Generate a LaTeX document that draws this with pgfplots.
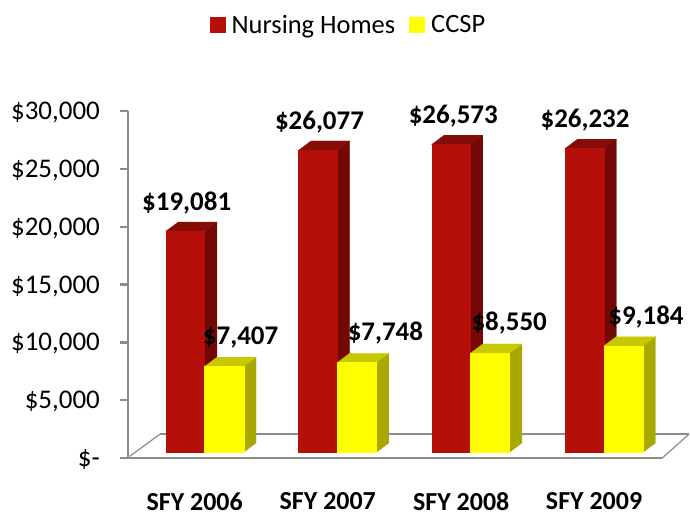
\documentclass[border=0pt]{standalone}
\usepackage{fontspec}
\setmainfont{Carlito}
\usepackage{pgfplots}
\pgfplotsset{compat=1.18}
\definecolor{redF}{HTML}{B50F0A}
\definecolor{redT}{HTML}{860C08}
\definecolor{redS}{HTML}{740806}
\definecolor{yelF}{HTML}{FFFF00}
\definecolor{yelT}{HTML}{C8C800}
\definecolor{yelS}{HTML}{A8A800}
\definecolor{axisgray}{HTML}{8C8C8C}
% #1 left edge (tenths of a pixel), #2 width, #3 value, #4 face, #5 top, #6 side
\newcommand{\threedbar}[6]{%
  \edef\xa{\the\numexpr#1\relax}\edef\xb{\the\numexpr#1+#2\relax}%
  \edef\xc{\the\numexpr#1+125\relax}\edef\xd{\the\numexpr#1+#2+125\relax}%
  \edef\ya{517}\edef\yb{\the\numexpr517+802\relax}%
  \edef\yc{\the\numexpr#3+517\relax}\edef\yd{\the\numexpr#3+517+802\relax}%
  \edef\tmp{\noexpand\addplot[fill=#6,draw=#6,line width=0.2pt,forget plot] coordinates {(\xb,\ya)(\xd,\yb)(\xd,\yd)(\xb,\yc)} --cycle;}\tmp
  \edef\tmp{\noexpand\addplot[fill=#5,draw=#5,line width=0.2pt,forget plot] coordinates {(\xa,\yc)(\xb,\yc)(\xd,\yd)(\xc,\yd)} --cycle;}\tmp
  \edef\tmp{\noexpand\addplot[fill=#4,draw=#4,line width=0.2pt,forget plot] coordinates {(\xa,\ya)(\xb,\ya)(\xb,\yc)(\xa,\yc)} --cycle;}\tmp
}
\newcommand{\lab}[3]{\edef\ly{\the\numexpr(459-#2)*10000/116\relax}%
  \edef\tmp{\noexpand\node[font=\noexpand\fontsize{27}{27}\noexpand\selectfont\noexpand\bfseries,inner sep=0pt] at (axis cs:#1,\ly) {\noexpand\$#3};}\tmp}
\begin{document}
\begin{tikzpicture}
\begin{axis}[
  scale only axis, width=535pt, height=348pt,
  xmin=1280, xmax=6630, ymin=0, ymax=30000,
  axis lines=left, clip=false, scaled y ticks=false,
  axis line style={-, line width=2.2pt, color=axisgray},
  xtick={1950,3283,4620,5950},
  xticklabels={SFY 2006,SFY 2007,SFY 2008,SFY 2009},
  ytick={0,5000,10000,15000,20000,25000,30000},
  yticklabels={{\$-},{\$5,000},{\$10,000},{\$15,000},{\$20,000},{\$25,000},{\$30,000}},
  x tick label style={font=\fontsize{26}{26}\selectfont\bfseries, inner sep=0pt, yshift=-26pt},
  y tick label style={font=\fontsize{27}{27}\selectfont, xshift=-16.5pt, yshift=-1.5pt},
  major tick length=8pt, tick align=outside,
  y tick style={line width=2.2pt, color=axisgray},
  x tick style={draw=none},
  legend style={draw=none, at={(axis cs:3490,37414)}, anchor=center, legend columns=2,
    font=\fontsize{26.5}{26.5}\selectfont, /tikz/every even column/.append style={column sep=12pt},
    inner sep=0pt},
  legend image code/.code={\fill[#1] (0pt,-8pt) rectangle (16pt,8pt); \path (20pt,0pt);},
]
\addlegendimage{fill=redF,draw=none}\addlegendentry{Nursing Homes}
\addlegendimage{fill=yelF,draw=none}\addlegendentry{CCSP}
% floor
\addplot[axisgray,line width=1.2pt,forget plot] coordinates {(1300,172)(1600,2069)};
\addplot[axisgray,line width=2.2pt,forget plot] coordinates {(1600,2069)(6900,2069)};
\addplot[axisgray,line width=1.2pt,forget plot] coordinates {(6630,0)(6900,2069)};
% bars
\threedbar{1660}{388}{19081}{redF}{redT}{redS}
\threedbar{2048}{392}{7407}{yelF}{yelT}{yelS}
\threedbar{2990}{388}{26077}{redF}{redT}{redS}
\threedbar{3378}{392}{7748}{yelF}{yelT}{yelS}
\threedbar{4323}{388}{26573}{redF}{redT}{redS}
\threedbar{4711}{392}{8550}{yelF}{yelT}{yelS}
\threedbar{5660}{388}{26232}{redF}{redT}{redS}
\threedbar{6048}{392}{9184}{yelF}{yelT}{yelS}
% labels
\lab{1870}{203}{19,081}
\lab{2410}{338}{7,407}
\lab{3200}{122}{26,077}
\lab{3860}{334}{7,748}
\lab{4540}{116}{26,573}
\lab{5100}{324}{8,550}
\lab{5860}{120}{26,232}
\lab{6470}{318}{9,184}
% page extent
\path (axis cs:0,-4828) (axis cs:6900,39569);
\end{axis}
\end{tikzpicture}
\end{document}
